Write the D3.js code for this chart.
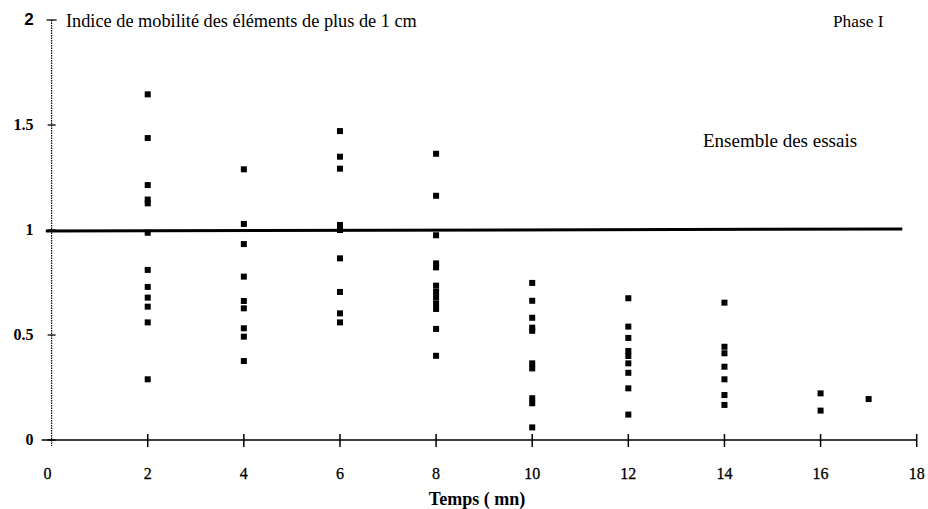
<!DOCTYPE html>
<html><head><meta charset="utf-8">
<script src="https://cdn.jsdelivr.net/npm/d3@7"></script>
<style>body{margin:0;background:#fff}svg{display:block}</style>
</head><body>
<svg id="c" width="928" height="509"></svg>
<script>
// Data
const times = [2, 4, 6, 8, 10, 12, 14, 16, 17];
const v2  = [1.646, 1.438, 1.214, 1.145, 1.127, 0.987, 0.810, 0.729, 0.678, 0.635, 0.560, 0.289];
const v4  = [1.289, 1.029, 0.933, 0.778, 0.662, 0.627, 0.532, 0.492, 0.376];
const v6  = [1.471, 1.349, 1.292, 1.024, 1.000, 0.865, 0.705, 0.603, 0.560];
const v8  = [1.363, 1.163, 0.975, 0.841, 0.822, 0.735, 0.706, 0.680, 0.651, 0.624, 0.529, 0.401];
const v10 = [0.748, 0.663, 0.582, 0.535, 0.520, 0.365, 0.341, 0.199, 0.175, 0.060];
const v12 = [0.675, 0.540, 0.486, 0.424, 0.400, 0.365, 0.320, 0.246, 0.121];
const v14 = [0.654, 0.444, 0.413, 0.349, 0.289, 0.214, 0.167];
const v16 = [0.222, 0.140];
const v17 = [0.195];
const columns = [v2, v4, v6, v8, v10, v12, v14, v16, v17];
const xTicks = [0, 2, 4, 6, 8, 10, 12, 14, 16, 18];
const yTicks = [0, 0.5, 1, 1.5, 2];
const refValue = 1;

const points = [];
times.forEach((t, i) => columns[i].forEach(v => points.push({t, v})));

const svg = d3.select("#c");
const x = d3.scaleLinear().domain([0, 18]).range([51.6, 916.7]);
const y = d3.scaleLinear().domain([0, 2]).range([440, 20]);
const serif = "Liberation Serif, Times New Roman, serif";
const sans = "Liberation Sans, Arial, sans-serif";

// Y axis (dotted)
svg.append("line").attr("x1", x(0)).attr("x2", x(0)).attr("y1", y(2)).attr("y2", y(0) + 6)
  .attr("stroke", "#000").attr("stroke-width", 1.2).attr("stroke-dasharray", "1.5,1");
svg.selectAll(".yt").data(yTicks).enter().append("line")
  .attr("x1", d => x(0) - (d === 2 ? 5 : 4)).attr("x2", d => x(0) + (d === 2 ? 5 : 4))
  .attr("y1", d => y(d)).attr("y2", d => y(d)).attr("stroke", "#000").attr("stroke-width", 1.3);
svg.selectAll(".yl").data(yTicks).enter().append("text")
  .attr("x", x(0) - 18).attr("y", d => y(d) + 5).attr("text-anchor", "end")
  .attr("font-family", d => d === 2 ? sans : serif).attr("font-weight", "bold")
  .attr("font-size", d => d === 2 ? 17 : 16)
  .text(d => d);

// X axis
svg.append("line").attr("x1", x(0) - 10).attr("x2", x(18)).attr("y1", y(0)).attr("y2", y(0))
  .attr("stroke", "#000").attr("stroke-width", 1.3);
svg.selectAll(".xt").data(xTicks.filter(d => d > 0)).enter().append("line")
  .attr("x1", d => x(d)).attr("x2", d => x(d)).attr("y1", y(0) - 6).attr("y2", y(0) + 7)
  .attr("stroke", "#000").attr("stroke-width", 1.5);
svg.selectAll(".xl").data(xTicks).enter().append("text")
  .attr("x", d => x(d) - (d === 0 ? 4 : 0)).attr("y", 479).attr("text-anchor", "middle")
  .attr("font-family", serif).attr("font-size", 16).attr("stroke", "#000").attr("stroke-width", 0.3)
  .text(d => d);

// Reference line
svg.append("line").attr("x1", x(-0.12)).attr("x2", x(17.7)).attr("y1", y(refValue) + 1).attr("y2", y(refValue) - 1)
  .attr("stroke", "#000").attr("stroke-width", 3);

// Points
svg.selectAll(".p").data(points).enter().append("rect")
  .attr("x", d => x(d.t) - 3).attr("y", d => y(d.v) - 3)
  .attr("width", 6).attr("height", 6).attr("fill", "#000");

// Texts
svg.append("text").attr("x", 66).attr("y", 27).attr("font-family", serif).attr("font-size", 18.3)
  .text("Indice de mobilité des éléments de plus de 1 cm");
svg.append("text").attr("x", 833).attr("y", 27).attr("font-family", serif).attr("font-size", 17.3)
  .text("Phase I");
svg.append("text").attr("x", 703).attr("y", 147).attr("font-family", serif).attr("font-size", 19)
  .text("Ensemble des essais");
svg.append("text").attr("x", 477).attr("y", 505).attr("text-anchor", "middle").attr("font-family", serif)
  .attr("font-size", 18).attr("font-weight", "bold").text("Temps ( mn)");
</script>
</body></html>
